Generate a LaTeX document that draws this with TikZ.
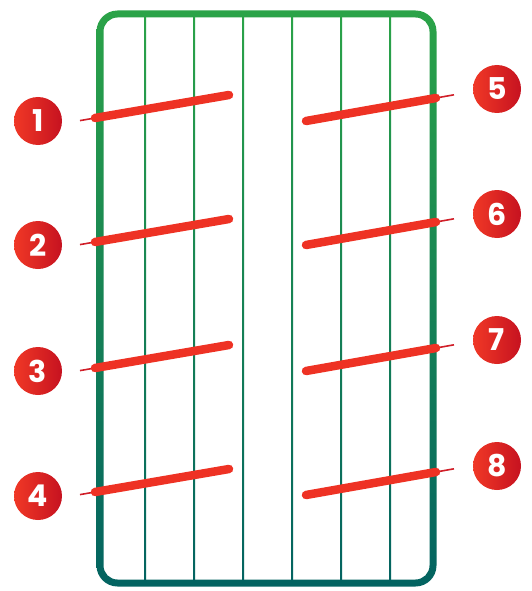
\documentclass[tikz,border=0pt]{standalone}
\usepackage{fontspec}
\newfontfamily\numfont{Poppins}
\usepackage{xcolor}
\usepackage{tikz}
\usetikzlibrary{positioning, calc}

\definecolor{frametop}{RGB}{43,163,72}
\definecolor{framebot}{RGB}{3,99,97}
\definecolor{barred}{RGB}{238,50,36}
\definecolor{tickred}{RGB}{208,30,40}
\definecolor{dotleft}{RGB}{240,56,38}
\definecolor{dotright}{RGB}{198,18,32}

\tikzset{
  bar/.style={line width=8.5pt, line cap=round, draw=barred},
  tick/.style={line width=1.6pt, draw=tickred},
  badge/.style={circle, minimum size=48pt, inner sep=0pt,
    left color=dotleft, right color=dotright, text=white,
    font=\numfont\bfseries\fontsize{30}{30}\selectfont},
}

\begin{document}
\begin{tikzpicture}[x=1pt,y=-1pt]
	\useasboundingbox (0,0) rectangle (531,591);
	% frame and rows
	\shade[top color=frametop, bottom color=framebot, even odd rule]
		{[rounded corners=21pt] (96.5,10.5) rectangle (436.5,586.5)}
		{[rounded corners=14pt] (103.5,17.5) rectangle (429.5,579.5)};
	\foreach \x in {145,194,243,292,341,390}
		\shade[top color=frametop, bottom color=framebot] (\x-1,14) rectangle (\x+1,583);
	% left side
	\node[badge] (n1) at (38,121) {1};
	\node[badge] (n2) at (38,245) {2};
	\node[badge] (n3) at (38,371) {3};
	\node[badge] (n4) at (38,496) {4};
	\coordinate (a1) at (80,120.6); \coordinate (b1) at (95,118); \coordinate (c1) at (229,95);
	\coordinate (a2) at (80,244.6); \coordinate (b2) at (95,242); \coordinate (c2) at (229,219);
	\coordinate (a3) at (80,370.6); \coordinate (b3) at (95,368); \coordinate (c3) at (229,345);
	\coordinate (a4) at (80,494.6); \coordinate (b4) at (95,492); \coordinate (c4) at (229,469);
	\draw[tick] (a1) -- (b1); \draw[bar] (b1) -- (c1);
	\draw[tick] (a2) -- (b2); \draw[bar] (b2) -- (c2);
	\draw[tick] (a3) -- (b3); \draw[bar] (b3) -- (c3);
	\draw[tick] (a4) -- (b4); \draw[bar] (b4) -- (c4);
	% right side
	\node[badge] (n5) at (497,89) {5};
	\node[badge] (n6) at (497,214) {6};
	\node[badge] (n7) at (497,340) {7};
	\node[badge] (n8) at (497,466) {8};
	\coordinate (b5) at (306,121); \coordinate (c5) at (436,98); \coordinate (a5) at (454,94.8);
	\coordinate (b6) at (306,245); \coordinate (c6) at (436,222); \coordinate (a6) at (454,218.8);
	\coordinate (b7) at (306,371); \coordinate (c7) at (436,348); \coordinate (a7) at (454,344.8);
	\coordinate (b8) at (306,495); \coordinate (c8) at (436,472); \coordinate (a8) at (454,468.8);
	\draw[tick] (c5) -- (a5); \draw[bar] (b5) -- (c5);
	\draw[tick] (c6) -- (a6); \draw[bar] (b6) -- (c6);
	\draw[tick] (c7) -- (a7); \draw[bar] (b7) -- (c7);
	\draw[tick] (c8) -- (a8); \draw[bar] (b8) -- (c8);
\end{tikzpicture}
\end{document}
